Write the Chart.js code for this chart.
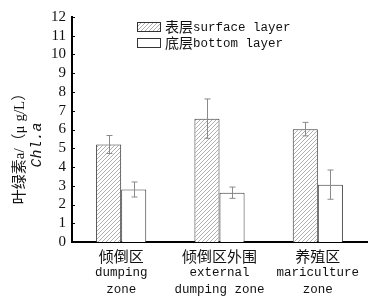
<!DOCTYPE html>
<html><head><meta charset="utf-8">
<script src="https://cdn.jsdelivr.net/npm/chart.js@4/dist/chart.umd.min.js"></script>
<style>html,body{margin:0;padding:0;background:#fff}#wrap{width:383px;height:303px}</style>
</head><body><div id="wrap"><canvas id="c" width="383" height="303"></canvas></div>
<script>
const categoriesZh = ["倾倒区", "倾倒区外围", "养殖区"];
const categoriesEn = [["dumping", "zone"], ["external", "dumping zone"], ["mariculture", "zone"]];
const surfaceValues = [5.2, 6.58, 6.02];
const bottomValues = [2.8, 2.63, 3.06];
const surfaceErr = [0.48, 1.05, 0.36];
const bottomErr = [0.4, 0.3, 0.78];
const seriesZh = ["表层", "底层"];
const seriesEn = ["surface layer", "bottom layer"];
const yTitleLine1 = "叶绿素a/（μ g/L）";
const yTitleLine2 = "Chl.a";
const yMin = 0, yMax = 12, yStep = 1;

function makeHatch() {
  const s = 4;
  const cv = document.createElement('canvas');
  cv.width = s; cv.height = s;
  const g = cv.getContext('2d');
  g.fillStyle = '#fff'; g.fillRect(0, 0, s, s);
  g.strokeStyle = '#9a9a9a'; g.lineWidth = 0.8;
  g.beginPath();
  g.moveTo(-1, s + 1); g.lineTo(s + 1, -1);
  g.moveTo(-1, 1); g.lineTo(1, -1);
  g.moveTo(s - 1, s + 1); g.lineTo(s + 1, s - 1);
  g.stroke();
  return g.createPattern(cv, 'repeat');
}
const ctx0 = document.getElementById('c').getContext('2d');
const hatch = makeHatch();

const errs = [surfaceErr, bottomErr];

const custom = {
  id: 'custom',
  afterDatasetsDraw(chart) {
    const ctx = chart.ctx;
    const y = chart.scales.y;
    ctx.save();
    ctx.strokeStyle = '#8a8a8a';
    ctx.lineWidth = 1;
    chart.data.datasets.forEach((ds, di) => {
      const meta = chart.getDatasetMeta(di);
      meta.data.forEach((bar, i) => {
        const v = ds.data[i], e = errs[di][i];
        const cx = Math.round(bar.x) + 0.5;
        const yt = y.getPixelForValue(v + e), yb = y.getPixelForValue(v - e);
        ctx.beginPath();
        ctx.moveTo(cx, yt); ctx.lineTo(cx, yb);
        ctx.moveTo(cx - 3, yt); ctx.lineTo(cx + 3, yt);
        ctx.moveTo(cx - 3, yb); ctx.lineTo(cx + 3, yb);
        ctx.stroke();
      });
    });
    ctx.restore();
  },
  afterDraw(chart) {
    const ctx = chart.ctx;
    const y = chart.scales.y;
    const x = chart.scales.x;
    const area = chart.chartArea;
    ctx.save();
    ctx.strokeStyle = '#000'; ctx.lineWidth = 1;
    for (let v = yMin; v <= yMax; v += yStep) {
      const py = Math.round(y.getPixelForValue(v)) + 0.5;
      ctx.beginPath(); ctx.moveTo(area.left, py); ctx.lineTo(area.left + 3, py); ctx.stroke();
    }
    ctx.fillStyle = '#111';
    ctx.textAlign = 'center'; ctx.textBaseline = 'middle';
    categoriesZh.forEach((zh, i) => {
      const px = x.getPixelForValue(i);
      ctx.font = '15px "Noto Sans CJK SC"';
      ctx.fillText(zh, px, 256);
      ctx.font = '12.5px "Liberation Mono"';
      categoriesEn[i].forEach((ln, k) => ctx.fillText(ln, px, 273 + k * 16.5));
    });
    ctx.save();
    ctx.translate(20, 145);
    ctx.rotate(-Math.PI / 2);
    ctx.textAlign = 'center'; ctx.textBaseline = 'middle';
    ctx.font = '15px "Liberation Serif", "Noto Sans CJK SC"';
    ctx.fillText(yTitleLine1, 0, 0);
    ctx.font = 'italic 15px "Liberation Mono"';
    ctx.fillText(yTitleLine2, 0, 17);
    ctx.restore();
    const fills = [hatch, '#fff'];
    const rowY = [27, 43];
    ctx.textAlign = 'left'; ctx.textBaseline = 'middle';
    for (let k = 0; k < 2; k++) {
      ctx.fillStyle = fills[k];
      ctx.fillRect(137, rowY[k] - 5, 24, 10);
      ctx.strokeStyle = '#333'; ctx.lineWidth = 1;
      ctx.strokeRect(137.5, rowY[k] - 4.5, 23, 9);
      ctx.fillStyle = '#111';
      ctx.font = '14px "Noto Sans CJK SC"';
      ctx.fillText(seriesZh[k], 165, rowY[k]);
      const w = ctx.measureText(seriesZh[k]).width;
      ctx.font = '12.5px "Liberation Mono"';
      ctx.fillText(seriesEn[k], 165 + w, rowY[k] + 1);
    }
    ctx.restore();
  }
};

new Chart(ctx0, {
  type: 'bar',
  data: {
    labels: categoriesZh,
    datasets: [
      { label: seriesZh[0] + seriesEn[0], data: surfaceValues, backgroundColor: hatch, borderColor: '#3a3a3a', borderWidth: 1 },
      { label: seriesZh[1] + seriesEn[1], data: bottomValues, backgroundColor: '#fff', borderColor: '#3a3a3a', borderWidth: 1 }
    ]
  },
  options: {
    responsive: false,
    animation: false,
    devicePixelRatio: 1,
    layout: { padding: { left: 0, right: 16, top: 17, bottom: 61 } },
    datasets: { bar: { categoryPercentage: 0.51, barPercentage: 1 } },
    plugins: { legend: { display: false }, tooltip: { enabled: false } },
    scales: {
      x: {
        grid: { display: false, drawTicks: false },
        border: { display: true, color: '#000', width: 2 },
        ticks: { display: false },
        afterFit(s) { s.height = 0; }
      },
      y: {
        min: yMin, max: yMax,
        grid: { display: false, drawTicks: false },
        border: { display: true, color: '#000', width: 2 },
        ticks: { stepSize: yStep, autoSkip: false, color: '#111', padding: 6, font: { family: '"Liberation Serif"', size: 15 } },
        afterFit(s) { s.width = 72; }
      }
    }
  },
  plugins: [custom]
});
</script>
</body></html>
